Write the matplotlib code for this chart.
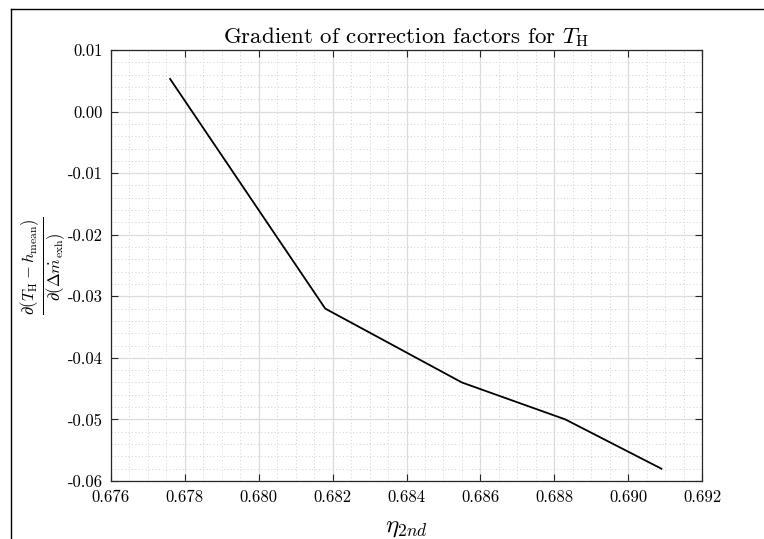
import matplotlib
matplotlib.use("Agg")
import matplotlib.pyplot as plt
from matplotlib.ticker import MultipleLocator, FuncFormatter
from matplotlib.lines import Line2D

plt.rcParams['font.family'] = 'serif'
plt.rcParams['font.serif'] = ['cmr10']
plt.rcParams['mathtext.fontset'] = 'cm'
plt.rcParams['axes.unicode_minus'] = False

eta = [0.6776, 0.6818, 0.6855, 0.6883, 0.6909]
grad = [0.0053, -0.0320, -0.0440, -0.0500, -0.0580]

fig = plt.figure(figsize=(7.64, 5.39), dpi=100)
W, H = 764, 539
ax = fig.add_axes([111 / W, 1 - 481 / H, (702 - 111) / W, (481 - 50) / H])

ax.plot(eta, grad, color='black', lw=1.3)
ax.set_xlim(0.676, 0.692)
ax.set_ylim(-0.06, 0.01)
ax.xaxis.set_major_locator(MultipleLocator(0.002))
ax.xaxis.set_minor_locator(MultipleLocator(0.0005))
ax.yaxis.set_major_locator(MultipleLocator(0.01))
ax.yaxis.set_minor_locator(MultipleLocator(0.002))
ax.xaxis.set_major_formatter(FuncFormatter(lambda v, p: f"{v:.3f}"))
ax.yaxis.set_major_formatter(FuncFormatter(lambda v, p: f"{v:.2f}".replace("-0.00", "0.00")))

ax.grid(which='major', color='#dcdcdc', lw=0.9, ls='-')
ax.grid(which='minor', color='#d0d0d0', lw=0.7, ls=(0, (1, 2.5)))
ax.set_axisbelow(True)
ax.tick_params(which='both', direction='in', top=True, right=True, colors='#262626',
               labelcolor='black', labelsize=12, pad=6)
ax.tick_params(which='major', length=5, width=0.8)
ax.tick_params(which='minor', length=0)
for s in ax.spines.values():
    s.set_color('#262626')
    s.set_linewidth(0.9)

ax.set_title(r'Gradient of correction factors for $T_\mathrm{H}$', fontsize=16.5, pad=5)
ax.set_xlabel(r'$\eta_{2nd}$', fontsize=18, labelpad=9)
ax.set_ylabel(r'$\frac{\partial (T_\mathrm{H} - h_\mathrm{mean})}{\partial (\Delta \dot{m}_\mathrm{exh})}$',
              fontsize=17, labelpad=0)

# figure frame lines (top and left)
fig.add_artist(Line2D([11 / W, 1], [1 - 9 / H, 1 - 9 / H], color='black', lw=1.0, transform=fig.transFigure))
fig.add_artist(Line2D([11 / W, 11 / W], [0, 1 - 9 / H], color='black', lw=1.0, transform=fig.transFigure))

fig.savefig('out.png', dpi=100)
